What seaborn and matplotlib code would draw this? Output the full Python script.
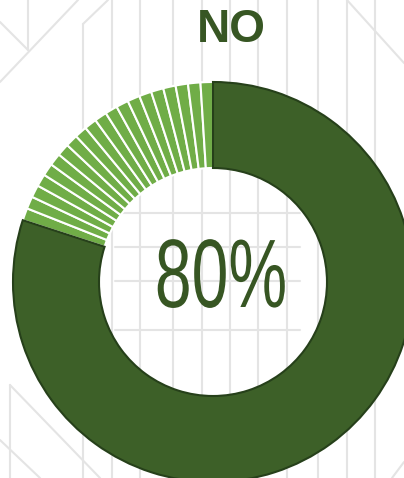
import matplotlib
matplotlib.use("Agg")
import matplotlib.pyplot as plt
import matplotlib.patheffects as pe
from matplotlib.transforms import Affine2D
import seaborn as sns

# data
answer_label = "NO"
answer_share = 80
other_share = 20
stripe_count = 20

dark_green = "#3d6028"
text_green = "#375623"
light_green = "#70ad47"
grid_grey = "#e4e4e4"

sns.set_theme(style="white")
plt.rcParams["font.family"] = ["Liberation Sans", "DejaVu Sans"]


class Squeeze(pe.AbstractPathEffect):
    """Narrow the glyphs horizontally around a fixed display x."""

    def __init__(self, factor, center_fn):
        super().__init__()
        self.factor = factor
        self.center_fn = center_fn

    def draw_path(self, renderer, gc, tpath, affine, rgbFace=None):
        cx = self.center_fn()
        squeeze = Affine2D().translate(-cx, 0).scale(self.factor, 1).translate(cx, 0)
        renderer.draw_path(gc, tpath, affine + squeeze, rgbFace)


W, H = 404, 478
fig = plt.figure(figsize=(W / 100, H / 100), dpi=100)
fig.patch.set_facecolor("white")

# faint background line pattern (pixel coords, y from top)
bg = fig.add_axes([0, 0, 1, 1])
bg.set_xlim(0, W)
bg.set_ylim(H, 0)
bg.axis("off")
for x in [112, 140, 173, 202, 230, 258, 287, 318, 347, 375]:
    bg.plot([x, x], [0, H], color=grid_grey, lw=1.5)
bg.plot([83, 83], [24, H], color=grid_grey, lw=1.5)
bg.plot([28, 28], [0, 50], color=grid_grey, lw=1.5)
bg.plot([10, 10], [385, H], color=grid_grey, lw=1.5)
for y in [213, 247, 281, 330]:
    bg.plot([115, 300], [y, y], color=grid_grey, lw=1.5)
segments = [
    ((0, 22), (28, 50)),
    ((78, 0), (0, 82)),
    ((108, 0), (83, 24)),
    ((347, 0), (404, 63)),
    ((10, 385), (100, 478)),
    ((0, 440), (40, 478)),
    ((404, 462), (392, 478)),
]
for (x0, y0), (x1, y1) in segments:
    bg.plot([x0, x1], [y0, y1], color=grid_grey, lw=1.5)

# donut
cx, cy, r = 213, 282, 200
ax = fig.add_axes([(cx - r) / W, (H - cy - r) / H, 2 * r / W, 2 * r / H])
ax.patch.set_alpha(0)

values = [answer_share] + [other_share / stripe_count] * stripe_count
colors = [dark_green] + [light_green] * stripe_count
wedges, _ = ax.pie(
    values,
    colors=colors,
    startangle=90,
    counterclock=False,
    radius=1.0,
    wedgeprops=dict(width=0.43, edgecolor="white", linewidth=1.5),
)
wedges[0].set_edgecolor("#26401a")
wedges[0].set_linewidth(1.5)
wedges[0].set_zorder(3)
ax.set_xlim(-1, 1)
ax.set_ylim(-1, 1)
ax.set_aspect("equal")
ax.axis("off")

label_pos = (0.04, 0.0)
center_label = ax.text(
    *label_pos, f"{answer_share}%",
    ha="center", va="center",
    fontsize=70, color=text_green,
)
center_label.set_path_effects(
    [Squeeze(0.68, lambda: ax.transData.transform(label_pos)[0])]
)

fig.text(231 / W, 1 - 30 / H, answer_label, ha="center", va="center",
         fontsize=33, fontweight="bold", color=text_green)

fig.savefig("out.png", dpi=100, facecolor="white")
